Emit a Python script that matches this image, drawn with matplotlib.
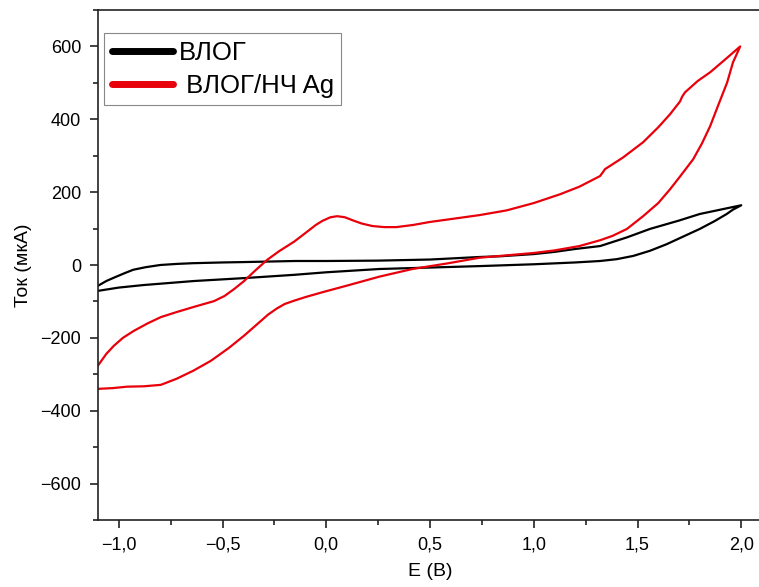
import matplotlib
matplotlib.use("Agg")
from matplotlib import pyplot as plt
from matplotlib.ticker import MultipleLocator, FuncFormatter

plt.rcParams['font.family'] = ['Liberation Sans', 'DejaVu Sans']

# ВЛОГ: forward scan (-1.1 -> 2.0) then reverse (2.0 -> -1.1)
vlog_fwd_e = [-1.1, -1.06, -1.02, -0.97, -0.93, -0.87, -0.8, -0.72, -0.64, -0.5, -0.4, -0.15,
              0.0, 0.25, 0.5, 0.74, 0.84, 1.0, 1.1, 1.2, 1.32, 1.45, 1.56, 1.7, 1.8, 1.9, 2.0]
vlog_fwd_i = [-57, -44, -34, -22, -13, -6, 0, 3, 5, 7, 8, 11,
              11, 12, 15, 22, 24, 30, 36, 44, 52, 76, 99, 122, 140, 152, 164]
vlog_rev_e = [2.0, 1.96, 1.93, 1.87, 1.8, 1.72, 1.64, 1.56, 1.48, 1.4, 1.32, 1.2, 1.0,
              0.74, 0.5, 0.256, 0.0, -0.155, -0.396, -0.638, -0.88, -1.0, -1.1]
vlog_rev_i = [164, 152, 140, 120, 99, 78, 57, 39, 25, 16, 11, 7, 2,
              -3, -7, -11, -20, -27, -36, -44, -55, -62, -71]

# ВЛОГ/НЧ Ag
ag_fwd_e = [-1.1, -1.06, -1.024, -0.98, -0.928, -0.86, -0.797, -0.72, -0.638, -0.54, -0.49,
            -0.444, -0.396, -0.34, -0.285, -0.227, -0.155, -0.1, -0.05, -0.019, 0.02, 0.053,
            0.09, 0.126, 0.17, 0.222, 0.28, 0.338, 0.42, 0.498, 0.6, 0.739, 0.87, 1.0, 1.126,
            1.22, 1.319, 1.335, 1.343, 1.43, 1.527, 1.6, 1.657, 1.705, 1.715, 1.729, 1.79,
            1.85, 1.92, 1.995]
ag_fwd_i = [-276, -244, -222, -200, -181, -160, -143, -129, -115, -99, -85,
            -66, -44, -14, 14, 38, 64, 88, 110, 121, 131, 134,
            131, 123, 114, 107, 104, 104, 110, 118, 126, 137, 150, 170, 194,
            215, 244, 256, 263, 295, 337, 378, 414, 449, 462, 474, 505,
            529, 563, 600]
ag_rev_e = [1.995, 1.96, 1.932, 1.89, 1.85, 1.81, 1.768, 1.705, 1.657, 1.6, 1.527, 1.449,
            1.38, 1.32, 1.22, 1.1, 1.0, 0.84, 0.739, 0.58, 0.415, 0.256, 0.097, -0.02,
            -0.1, -0.155, -0.2, -0.237, -0.28, -0.314, -0.396, -0.47, -0.556, -0.64, -0.72,
            -0.797, -0.88, -0.96, -1.03, -1.1]
ag_rev_i = [600, 556, 501, 440, 381, 333, 290, 243, 208, 170, 134, 99,
            80, 68, 52, 40, 33, 25, 20, 4, -11, -32, -57, -75,
            -88, -98, -107, -119, -136, -153, -194, -228, -263, -290, -312,
            -329, -333, -334, -338, -340]

labels = ['ВЛОГ', ' ВЛОГ/НЧ Ag']
colors = ['black', '#e8000b']

fig = plt.figure(figsize=(7.59, 5.87), dpi=100)
ax = fig.add_axes([98 / 759, 67 / 587, 664 / 759, 510 / 587])

ax.plot(vlog_fwd_e + vlog_rev_e[1:], vlog_fwd_i + vlog_rev_i[1:],
        color=colors[0], lw=1.6, label=labels[0])
ax.plot(ag_fwd_e + ag_rev_e[1:], ag_fwd_i + ag_rev_i[1:],
        color=colors[1], lw=1.6, label=labels[1])

ax.set_xlim(-1.1, 2.1)
ax.set_ylim(-700, 700)
ax.xaxis.set_major_locator(MultipleLocator(0.5))
ax.xaxis.set_minor_locator(MultipleLocator(0.25))
ax.yaxis.set_major_locator(MultipleLocator(200))
ax.yaxis.set_minor_locator(MultipleLocator(100))
ax.xaxis.set_major_formatter(FuncFormatter(lambda v, p: ('%.1f' % v).replace('.', ',').replace('-', '\u2212')))
ax.yaxis.set_major_formatter(FuncFormatter(lambda v, p: ('%d' % v).replace('-', '\u2212')))

ax.spines['right'].set_visible(False)
for s in ['left', 'bottom', 'top']:
    ax.spines[s].set_linewidth(1.2)
    ax.spines[s].set_color('#222222')
ax.tick_params(which='major', direction='out', length=6, width=1.2, labelsize=13, pad=6, color='#222222')
ax.tick_params(which='minor', direction='out', length=3.5, width=1.2, color='#222222')

ax.set_xlabel('E (B)', fontsize=14, labelpad=7)
ax.set_ylabel('Ток (мкА)', fontsize=14, labelpad=6)

leg = ax.legend(loc='upper left', bbox_to_anchor=(6 / 664, 487 / 510), borderaxespad=0,
                fontsize=18.5, handlelength=2.4, handletextpad=0.2, labelspacing=0.35,
                borderpad=0.3, fancybox=False, framealpha=1, edgecolor='#888888')
leg.get_frame().set_linewidth(0.8)
for ln in leg.get_lines():
    ln.set_linewidth(5)
    ln.set_solid_capstyle('round')

fig.savefig('out.png', dpi=100)
